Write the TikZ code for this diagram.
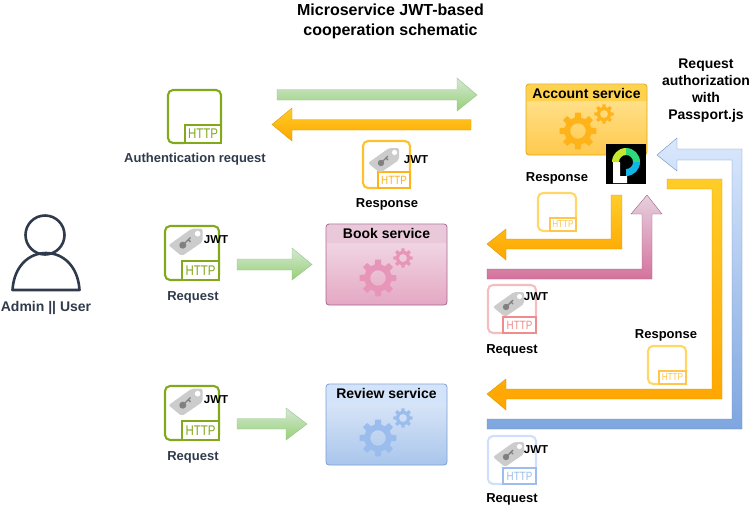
\documentclass[tikz,border=0pt]{standalone}
\usepackage{fontspec}
\setmainfont{Liberation Sans}

\definecolor{slate}{HTML}{2F3B4C}
\definecolor{httpgreen}{HTML}{82A81C}
\definecolor{rimorange}{HTML}{FFC02E}
\definecolor{boxorange}{HTML}{FFB31A}
\definecolor{rimyellow}{HTML}{FFD668}
\definecolor{boxyellow}{HTML}{FFC64D}
\definecolor{rimpink}{HTML}{F5BDBD}
\definecolor{boxpink}{HTML}{F08C8C}
\definecolor{rimblue}{HTML}{CFE0FA}
\definecolor{boxblue}{HTML}{9DBDEE}
\definecolor{acctedge}{HTML}{E0A800}
\definecolor{accthead}{HTML}{FFD24D}
\definecolor{accttop}{HTML}{FFE699}
\definecolor{acctbot}{HTML}{FFC94D}
\definecolor{bookedge}{HTML}{A9668F}
\definecolor{bookhead}{HTML}{E8C8D9}
\definecolor{booktop}{HTML}{F4E2EC}
\definecolor{bookbot}{HTML}{E4A8C4}
\definecolor{bookgear}{HTML}{E795B9}
\definecolor{reviewedge}{HTML}{7A9FD6}
\definecolor{reviewhead}{HTML}{D3E3FA}
\definecolor{reviewtop}{HTML}{E6EEFB}
\definecolor{reviewbot}{HTML}{A9C5EC}
\definecolor{reviewgear}{HTML}{9ABDED}
\definecolor{greenedge}{HTML}{96C387}
\definecolor{greentop}{HTML}{D5E8D4}
\definecolor{greenbot}{HTML}{97D077}
\definecolor{orangeedge}{HTML}{D79B00}
\definecolor{orangetop}{HTML}{FFCD28}
\definecolor{orangebot}{HTML}{FFA500}
\definecolor{pinkedge}{HTML}{996185}
\definecolor{pinktop}{HTML}{E6D0DE}
\definecolor{pinkbot}{HTML}{D5739D}
\definecolor{blueedge}{HTML}{6C8EBF}
\definecolor{bluetop}{HTML}{DAE8FC}
\definecolor{bluebot}{HTML}{7EA6E0}
\definecolor{ringlime}{HTML}{C6E82C}
\definecolor{ringgreen}{HTML}{2DD97A}
\definecolor{ringcyan}{HTML}{10B6E8}

\tikzset{
    lbl/.style={inner sep=0pt, align=center, font=\bfseries\fontsize{13}{15}\selectfont},
    dark/.style={lbl, text=slate},
    jwt/.style={inner sep=0pt, font=\bfseries\fontsize{11.5}{13}\selectfont},
    greenarrow/.style={draw=greenedge, top color=greentop, bottom color=greenbot},
    orangearrow/.style={draw=orangeedge, top color=orangetop, bottom color=orangebot},
    pinkarrow/.style={draw=pinkedge, top color=pinktop, bottom color=pinkbot},
    bluearrow/.style={draw=blueedge, top color=bluetop, bottom color=bluebot},
}

% name, left, top, size, box width, box height, rim colour, box colour, font size
\newcommand{\httpicon}[9]{
    \draw[#7, line width=2.1pt, rounded corners=5pt] ({#2+1},{#3+1}) rectangle ({#2+#4-1},{#3+#4-1});
    \fill[white] ({#2+#4-#5-2},{#3+#4-#6-.5}) rectangle ({#2+#4},{#3+#4+.5});
    \node[draw=#8, fill=white, text=#8, line width=2.1pt, inner sep=0pt, outer sep=0pt, anchor=south east,
          minimum width=#5, minimum height=#6, font=\fontsize{#9}{#9}\selectfont]
        (#1) at ({#2+#4-1},{#3+#4-1}) {\scalebox{.82}[1]{HTTP}};
}

% centre x, centre y, scale
\newcommand{\jwttag}[3]{
    \begin{scope}[shift={(#1,#2)}, scale=#3]
        \fill[black!20, rounded corners=2pt] (-15,2) -- (6,-13) -- (16,-13) -- (16,-1) -- (-3,12) -- cycle;
        \fill[white] (11.5,-8.5) circle (2.6);
        \fill[black!50] (-2,2) circle (3.2);
        \draw[black!50, line width=1.4pt] (-2,2) -- (5,-5) (3,-3) -- (5,-1);
    \end{scope}
}

% centre x, centre y, radius, colour
\newcommand{\gear}[4]{
    \fill[#4, even odd rule, shift={(#1,#2)}]
        (-8:#3)
        \foreach \a in {0,45,...,315} {
            -- (\a-9:#3) -- (\a+9:#3) -- (\a+14:#3*0.74) -- (\a+31:#3*0.74)
        } -- cycle
        (0,0) circle (#3*0.42);
}

% left, top, height, header height, title, header colour, top colour, bottom colour
\newcommand{\servicebox}[8]{
    \path[rounded corners=3pt, top color=#7, bottom color=#8] (#1,#2) rectangle ({#1+121},{#2+#3});
    \fill[#6] ({#1+.5},{#2+#4}) [rounded corners=3pt] -- ({#1+.5},{#2+.5}) -- ({#1+120.5},{#2+.5}) [sharp corners] -- ({#1+120.5},{#2+#4}) -- cycle;
    \node[lbl, font=\bfseries\fontsize{14}{16}\selectfont] at ({#1+60.5},{#2+#4/2+(19-#4)*.35}) {#5};
}

\begin{document}
\begin{tikzpicture}[x=1pt, y=-1pt]
\useasboundingbox (0,0) rectangle (750,507);

% Заголовок
\node[lbl, font=\bfseries\fontsize{16}{20}\selectfont] (title) at (390.5,21) {Microservice JWT-based\\cooperation schematic};
\node[lbl, font=\bfseries\fontsize{14}{17}\selectfont] (authz) at (706,91) {Request\\authorization\\with\\Passport.js};

% Пользователь
\draw[slate, line width=2.6pt] (45,235) circle (19.5);
\draw[slate, line width=2.6pt, line join=round] (12.5,290) .. controls (14,266) and (29,253) .. (46,253) .. controls (63,253) and (78,266) .. (79.5,290) -- cycle;
\node[dark, font=\bfseries\fontsize{14}{16}\selectfont] (admin) at (46,308) {Admin || User};

% Сервисы
\servicebox{526}{84}{71}{17}{Account service}{accthead}{accttop}{acctbot}
\node[draw=acctedge, rounded corners=3pt, minimum width=121, minimum height=71, line width=.8pt, outer sep=0pt] (account) at (586.5,119.5) {};
\gear{578}{131}{18.5}{boxorange}
\gear{604}{114}{9.7}{boxorange}

\servicebox{326}{224}{81}{19}{Book service}{bookhead}{booktop}{bookbot}
\node[draw=bookedge, rounded corners=3pt, minimum width=121, minimum height=81, line width=.8pt, outer sep=0pt] (book) at (386.5,264.5) {};
\gear{378}{278}{18.5}{bookgear}
\gear{403}{258}{9.7}{bookgear}

\servicebox{326}{384}{81}{19}{Review service}{reviewhead}{reviewtop}{reviewbot}
\node[draw=reviewedge, rounded corners=3pt, minimum width=121, minimum height=81, line width=.8pt, outer sep=0pt] (review) at (386.5,424.5) {};
\gear{378}{438}{18.5}{reviewgear}
\gear{403}{418}{9.7}{reviewgear}

% Логотип Passport
\fill[black] (606,144) rectangle (646,184);
\fill[white] (613,162) -- (620,162) -- (620,176) -- (627,176) -- (627,183) -- (613,183) -- cycle;
\fill[ringlime] (612,162) arc[start angle=180, end angle=270, radius=14] -- (626,155) arc[start angle=270, end angle=180, radius=7] -- cycle;
\fill[ringgreen] (626,148) arc[start angle=270, end angle=360, radius=14] -- (633,162) arc[start angle=360, end angle=270, radius=7] -- cycle;
\fill[ringcyan] (640,162) arc[start angle=0, end angle=90, radius=14] -- (626,169) arc[start angle=90, end angle=0, radius=7] -- cycle;

% Иконки HTTP
\httpicon{authreq}{167}{89}{55}{36}{18}{httpgreen}{httpgreen}{14}
\node[dark] (authlbl) at (195,159.5) {Authentication request};

\httpicon{topresp}{362}{140}{49}{32}{16}{rimorange}{boxorange}{12}
\jwttag{383}{161}{1}
\node[jwt] (topjwt) at (416,159.5) {JWT};
\node[lbl] (toplbl) at (387,204) {Response};

\httpicon{bookreq}{164}{225}{56}{37}{19}{httpgreen}{httpgreen}{14}
\jwttag{185}{243}{1.1}
\node[jwt] (bookjwt) at (216,239.5) {JWT};
\node[dark] (booklbl) at (193,297) {Request};

\httpicon{reviewreq}{164}{385}{56}{37}{19}{httpgreen}{httpgreen}{14}
\jwttag{185}{403}{1.1}
\node[jwt] (reviewjwt) at (216,399.5) {JWT};
\node[dark] (reviewlbl) at (193,457) {Request};

\httpicon{acctresp}{537}{192}{40}{26}{13}{rimyellow}{boxyellow}{10}
\node[lbl] (acctlbl) at (557,178) {Response};

\httpicon{pinkreq}{487}{284}{50}{33}{16}{rimpink}{boxpink}{12}
\jwttag{508}{305}{1}
\node[jwt] (pinkjwt) at (536,296.5) {JWT};
\node[lbl] (pinklbl) at (512,350) {Request};

\httpicon{lowresp}{647}{345}{40}{27}{13}{rimyellow}{boxyellow}{10}
\node[lbl] (lowlbl) at (666,335) {Response};

\httpicon{bluereq}{487}{435}{50}{33}{16}{rimblue}{boxblue}{12}
\jwttag{508}{455}{1}
\node[jwt] (bluejwt) at (536,449.5) {JWT};
\node[lbl] (bluelbl) at (512,499) {Request};

% Стрелки запросов
\path[draw, greenarrow] (277,89.5) -- (457,89.5) -- (457,78) -- (477,95) -- (457,111) -- (457,100) -- (277,100) -- cycle;
\path[draw, greenarrow] (237,259) -- (292,259) -- (292,248) -- (312,264.5) -- (292,280) -- (292,270) -- (237,270) -- cycle;
\path[draw, greenarrow] (237,418.5) -- (286,418.5) -- (286,408) -- (307,424) -- (286,440) -- (286,429) -- (237,429) -- cycle;

% Стрелки ответов
\path[draw, orangearrow] (471,119.5) -- (292,119.5) -- (292,108) -- (272,124.5) -- (292,141) -- (292,130) -- (471,130) -- cycle;
\path[draw, orangearrow] (622,195) -- (622,249) -- (506,249) -- (506,260) -- (487,244) -- (506,229) -- (506,239) -- (611,239) -- (611,195) -- cycle;
\path[draw, orangearrow] (667,179) -- (722,179) -- (722,399) -- (506,399) -- (506,410) -- (487,394) -- (506,379) -- (506,389) -- (712,389) -- (712,189) -- (667,189) -- cycle;

% Стрелки авторизации
\path[draw, pinkarrow] (487,269) -- (642,269) -- (642,214) -- (631,214) -- (647,195) -- (662,214) -- (652,214) -- (652,279) -- (487,279) -- cycle;
\path[draw, bluearrow] (487,419) -- (732,419) -- (732,160) -- (677,160) -- (677,171) -- (657,155) -- (677,138) -- (677,149) -- (742,149) -- (742,429) -- (487,429) -- cycle;

\end{tikzpicture}
\end{document}
